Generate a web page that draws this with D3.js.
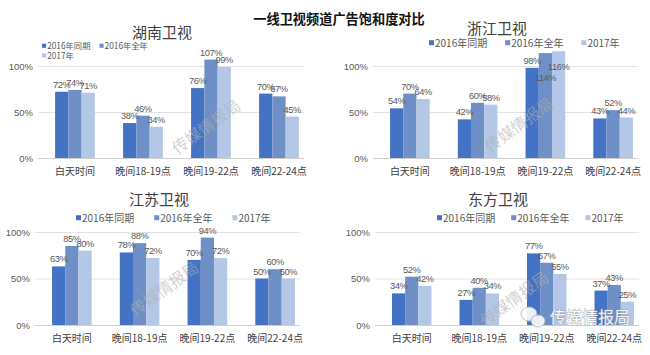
<!DOCTYPE html>
<html><head><meta charset="utf-8">
<script src="https://cdn.jsdelivr.net/npm/d3@7"></script>
<style>
body{margin:0;background:#fff;}
svg{display:block;font-family:"Liberation Sans Narrow","Noto Sans CJK SC",sans-serif;}
</style></head>
<body><svg id="c" width="650" height="355"></svg>
<script>
const mainTitle = "一线卫视频道广告饱和度对比";
const categories = ["白天时间","晚间18-19点","晚间19-22点","晚间22-24点"];
const seriesNames = ["2016年同期","2016年全年","2017年"];
const channels = ["湖南卫视","浙江卫视","江苏卫视","东方卫视"];
const yTicks = [0, 50, 100];
const tickLabels = ["0%","50%","100%"];
// values per series: [2016年同期, 2016年全年, 2017年]
const hunanValues    = [[72,38,76,70],[74,46,107,67],[71,34,99,45]];
const zhejiangValues = [[54,42,98,43],[70,60,114,52],[64,58,116,44]];
const jiangsuValues  = [[63,78,70,50],[85,88,94,60],[80,72,72,50]];
const dongfangValues = [[34,27,77,37],[52,40,67,43],[42,34,55,25]];
const watermark = "传媒情报局";

const colors = ["#4472C4","#6F90C6","#B4C7E7"];
const svg = d3.select("#c");

svg.append("text").attr("x",339).attr("y",24).attr("text-anchor","middle")
  .attr("font-family","Noto Sans CJK SC, sans-serif")
  .attr("font-size",13.2).attr("font-weight","bold").attr("fill","#111").text(mainTitle);

const panels = [
  {name:channels[0], vals:hunanValues, x0:41, x1:313, yTop:66, yBase:158, tx:162, ty:38, labelMin:40,
   legend:{rows:true, x:42, y:46, fs:8.3, gap:9}, wm:[207,128]},
  {name:channels[1], vals:zhejiangValues, x0:376, x1:647, yTop:66, yBase:158, tx:497, ty:34, labelMin:60,
   legend:{rows:false, x:429, y:43, fs:10, gap:18}, wm:[520,126]},
  {name:channels[2], vals:jiangsuValues, x0:38, x1:309, yTop:232, yBase:325, tx:159, ty:205, labelMin:210,
   legend:{rows:false, x:76, y:218, fs:10, gap:20}, wm:[165,290]},
  {name:channels[3], vals:dongfangValues, x0:378, x1:648, yTop:232, yBase:325, tx:498, ty:205, labelMin:210,
   legend:{rows:false, x:437, y:218, fs:10, gap:16}, wm:[515,300]}
];

panels.forEach(p=>{
  const g = svg.append("g");
  const x = d3.scaleBand().domain(categories).range([p.x0,p.x1]);
  const y = d3.scaleLinear().domain([0,100]).range([p.yBase,p.yTop]);
  const bw = x.step()*0.195;
  const xs = d3.scaleBand().domain(seriesNames).range([-1.5*bw,1.5*bw]);

  const yAxis = d3.axisLeft(y).tickValues(yTicks).tickSize(-(p.x1-p.x0-6))
    .tickFormat((d,i)=>tickLabels[i]).tickPadding(5);
  const ag = g.append("g").attr("transform",`translate(${p.x0-3},0)`).call(yAxis);
  ag.select(".domain").remove();
  ag.selectAll(".tick line").attr("stroke","#e3e3e3").attr("stroke-width",1);
  ag.selectAll(".tick text").attr("fill","#595959").attr("font-size",9.5)
    .attr("font-family","Liberation Sans Narrow, sans-serif");
  ag.select(".tick line").attr("stroke","#d0d0d0");

  p.vals.forEach((arr,si)=>{
    g.selectAll(null).data(arr).enter().append("rect")
      .attr("x",(d,i)=>x(categories[i])+x.step()/2+xs(seriesNames[si]))
      .attr("y",d=>y(d)).attr("width",xs.bandwidth()).attr("height",d=>p.yBase-y(d))
      .attr("fill",colors[si]);
  });

  categories.forEach((c,i)=>{
    const inside=[];
    for(let si=2;si>=0;si--){
      const v=p.vals[si][i];
      const cx=x(c)+x.step()/2+xs(seriesNames[si])+xs.bandwidth()/2;
      let by=y(v)-4;
      if(by < p.labelMin){
        by = y(v)+19;
        inside.forEach(q=>{ if(Math.abs(q.cx-cx)<20 && Math.abs(q.by-by)<10){ by=q.by+11; } });
        inside.push({cx,by});
      }
      g.append("text").attr("x",cx).attr("y",by).attr("text-anchor","middle")
        .attr("font-size",9.3).attr("letter-spacing",-0.4).attr("fill","#595959")
        .attr("font-family","Liberation Sans Narrow, sans-serif")
        .text(v+"%");
    }
  });

  categories.forEach(c=>{
    g.append("text").attr("x",x(c)+x.step()/2).attr("y",p.yBase+17).attr("text-anchor","middle")
      .attr("font-size",10).attr("fill","#404040").text(c);
  });

  g.append("text").attr("x",p.tx).attr("y",p.ty).attr("text-anchor","middle")
    .attr("font-family","Noto Sans CJK SC, sans-serif")
    .attr("font-size",15).attr("fill","#404040").text(p.name);

  const L=p.legend;
  let lx=L.x, ly=L.y;
  seriesNames.forEach((s,si)=>{
    if(L.rows && si===2){ lx=L.x; ly=L.y+9.6; }
    g.append("rect").attr("x",lx).attr("y",ly-L.fs*0.28).attr("width",L.fs*0.5).attr("height",L.fs*0.5).attr("fill",colors[si]);
    const t=g.append("text").attr("x",lx+L.fs*0.5+1).attr("y",ly+L.fs*0.36).attr("font-size",L.fs).attr("fill","#595959").text(s);
    lx += L.fs*0.5+1+t.node().getComputedTextLength()+L.gap;
  });

  g.append("text").attr("transform",`translate(${p.wm[0]},${p.wm[1]}) rotate(-36)`)
    .attr("text-anchor","middle").attr("dominant-baseline","middle")
    .attr("font-family","Noto Sans CJK SC, sans-serif")
    .attr("font-size",16).attr("fill","#b0b0b0").attr("opacity",0.55).text(watermark);
});

const wg = svg.append("g").attr("opacity",0.9);
wg.append("ellipse").attr("cx",529).attr("cy",314).attr("rx",8).attr("ry",7).attr("fill","#fff").attr("stroke","#bbb");
wg.append("ellipse").attr("cx",538).attr("cy",321).attr("rx",7).attr("ry",6).attr("fill","#fff").attr("stroke","#bbb");
wg.append("text").attr("x",550).attr("y",323).attr("font-size",16).attr("fill","#fff")
  .attr("font-family","Noto Sans CJK SC, sans-serif")
  .attr("stroke","#9a9a9a").attr("stroke-width",0.8).attr("paint-order","stroke").text(watermark);
</script></body></html>
